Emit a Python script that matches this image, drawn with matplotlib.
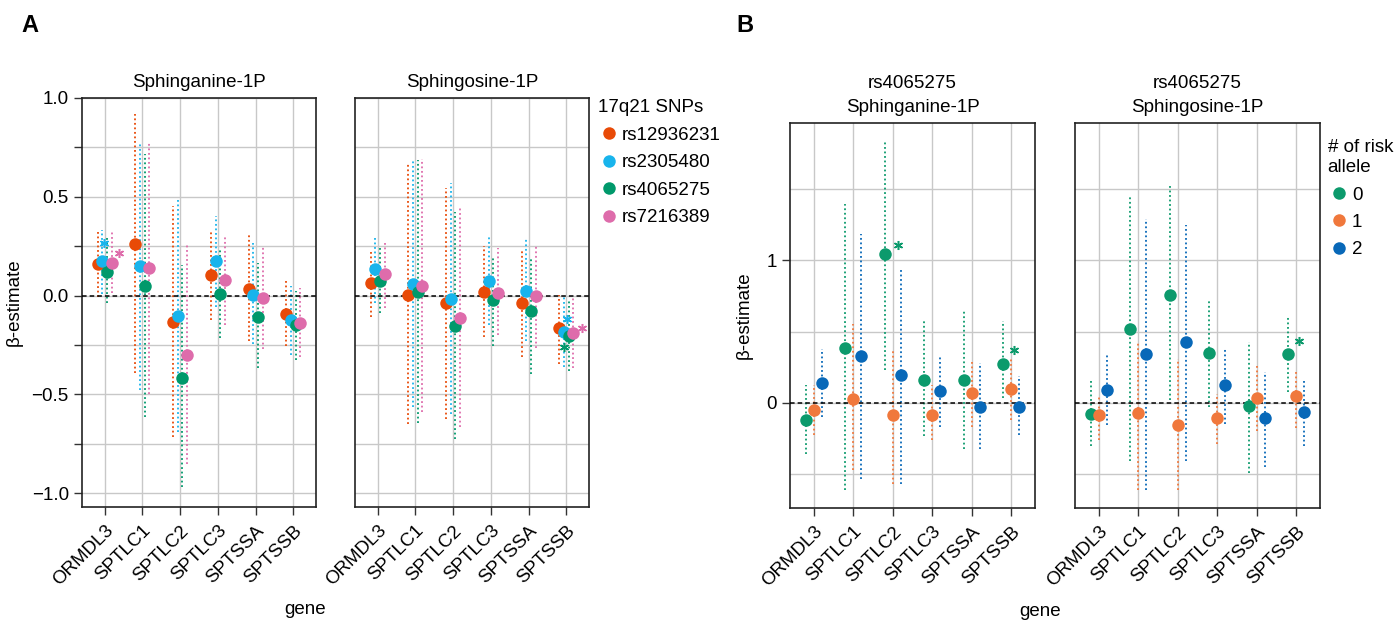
import matplotlib
matplotlib.use("Agg")
import matplotlib.pyplot as plt
from matplotlib.lines import Line2D
import numpy as np

plt.rcParams['font.family'] = ['Liberation Sans', 'DejaVu Sans']

genes = ["ORMDL3", "SPTLC1", "SPTLC2", "SPTLC3", "SPTSSA", "SPTSSB"]

# ---- panel A: 4 SNPs, two metabolites ----
snps = ["rs12936231", "rs2305480", "rs4065275", "rs7216389"]
snp_colors = ["#E84A07", "#18B4EC", "#00996B", "#DE6CAB"]

a_sa_est = [
    [0.161, 0.259, -0.132, 0.103, 0.032, -0.092],
    [0.173, 0.151, -0.102, 0.173, 0.003, -0.124],
    [0.120, 0.049, -0.415, 0.010, -0.107, -0.151],
    [0.166, 0.139, -0.302, 0.080, -0.014, -0.137],
]
a_sa_hi = [
    [0.325, 0.919, 0.453, 0.334, 0.305, 0.080],
    [0.334, 0.775, 0.495, 0.402, 0.266, 0.049],
    [0.295, 0.715, 0.156, 0.232, 0.164, 0.024],
    [0.330, 0.775, 0.258, 0.305, 0.249, 0.037],
]
a_sa_lo = [
    [-0.008, -0.392, -0.717, -0.124, -0.229, -0.254],
    [0.008, -0.480, -0.692, -0.056, -0.246, -0.302],
    [-0.039, -0.615, -0.971, -0.217, -0.369, -0.324],
    [0.012, -0.500, -0.853, -0.149, -0.268, -0.310],
]
a_so_est = [
    [0.066, 0.003, -0.039, 0.019, -0.039, -0.166],
    [0.134, 0.059, -0.017, 0.073, 0.024, -0.183],
    [0.075, 0.019, -0.156, -0.024, -0.078, -0.203],
    [0.110, 0.049, -0.115, 0.015, -0.003, -0.188],
]
a_so_hi = [
    [0.224, 0.664, 0.546, 0.249, 0.224, 0.003],
    [0.300, 0.686, 0.571, 0.308, 0.286, -0.005],
    [0.241, 0.686, 0.422, 0.198, 0.195, -0.025],
    [0.275, 0.693, 0.444, 0.241, 0.253, -0.014],
]
a_so_lo = [
    [-0.107, -0.649, -0.624, -0.212, -0.310, -0.344],
    [-0.039, -0.564, -0.598, -0.149, -0.229, -0.361],
    [-0.086, -0.646, -0.725, -0.256, -0.398, -0.381],
    [-0.064, -0.590, -0.666, -0.200, -0.263, -0.369],
]
# significance stars: (gene, x shift, y, series index)
a_sa_stars = [("ORMDL3", -0.03, 0.266, 1), ("ORMDL3", 0.38, 0.215, 3)]
a_so_stars = [("SPTSSB", 0.02, -0.120, 1), ("SPTSSB", -0.06, -0.259, 2),
              ("SPTSSB", 0.42, -0.163, 3)]

# ---- panel B: rs4065275 by number of risk alleles ----
alleles = ["0", "1", "2"]
allele_colors = ["#0C9A6C", "#F0783C", "#0868B8"]

b_sa_est = [
    [-0.119, 0.386, 1.042, 0.162, 0.162, 0.274],
    [-0.054, 0.028, -0.089, -0.089, 0.068, 0.098],
    [0.138, 0.326, 0.192, 0.080, -0.028, -0.028],
]
b_sa_hi = [
    [0.122, 1.393, 1.848, 0.574, 0.653, 0.574],
    [0.122, 0.555, 0.379, 0.122, 0.302, 0.309],
    [0.379, 1.183, 0.941, 0.326, 0.279, 0.185],
]
b_sa_lo = [
    [-0.358, -0.616, 0.232, -0.237, -0.323, 0.035],
    [-0.230, -0.475, -0.569, -0.265, -0.171, -0.119],
    [-0.100, -0.534, -0.569, -0.171, -0.323, -0.230],
]
b_so_est = [
    [-0.077, 0.520, 0.759, 0.351, -0.026, 0.342],
    [-0.089, -0.073, -0.159, -0.108, 0.033, 0.044],
    [0.091, 0.342, 0.429, 0.122, -0.108, -0.066],
]
b_so_hi = [
    [0.169, 1.457, 1.534, 0.719, 0.426, 0.607],
    [0.052, 0.426, 0.309, 0.063, 0.255, 0.232],
    [0.340, 1.293, 1.246, 0.386, 0.215, 0.169],
]
b_so_lo = [
    [-0.307, -0.410, 0.016, -0.030, -0.494, 0.075],
    [-0.265, -0.616, -0.616, -0.288, -0.199, -0.176],
    [-0.159, -0.616, -0.410, -0.148, -0.452, -0.307],
]
b_sa_stars = [("SPTLC2", 0.135, 1.105, 0), ("SPTSSB", 0.06, 0.372, 0)]
b_so_stars = [("SPTSSB", 0.07, 0.431, 0)]

FS = 13.5


def draw_panel(ax, est, lo, hi, colors, width, stars):
    n = len(est)
    x = np.arange(1, len(genes) + 1)
    offsets = (np.arange(n) - (n - 1) / 2) * width / n
    for k in range(n):
        xs = x + offsets[k]
        ax.vlines(xs, lo[k], hi[k], colors=colors[k], linestyles=(0, (1, 1.5)),
                  linewidth=1.3, zorder=2)
    ax.axhline(0, color="black", linestyle=(0, (3, 2)), linewidth=1.1, zorder=3)
    for k in range(n):
        xs = x + offsets[k]
        ax.plot(xs, est[k], "o", color=colors[k], markersize=9,
                markeredgewidth=0, zorder=4)
    for g, dx, y, k in stars:
        ax.plot(genes.index(g) + 1 + dx, y, marker=(6, 2, 0), color=colors[k],
                markersize=6.5, markeredgewidth=1.1, linestyle="", zorder=5)
    ax.set_xlim(0.4, 6.6)
    ax.set_xticks(x)
    ax.set_xticklabels(genes, rotation=45, ha="right", va="top",
                       rotation_mode="anchor", fontsize=FS)
    ax.grid(True, which="both", color="#C8C8C8", linewidth=1.0, zorder=0)
    ax.set_axisbelow(True)
    for s in ax.spines.values():
        s.set_linewidth(1.2)
        s.set_color("#222222")
    ax.tick_params(axis="both", which="both", length=6, width=1.0,
                   labelsize=FS, color="#333333")
    ax.tick_params(axis="x", pad=5)


fig = plt.figure(figsize=(14, 6.21), dpi=100)

W, H = 1400, 621


def add_ax(x0, x1, y0, y1):
    return fig.add_axes([x0 / W, 1 - y1 / H, (x1 - x0) / W, (y1 - y0) / H])


axA1 = add_ax(82, 316, 98, 507)
axA2 = add_ax(355, 589, 98, 507)
axB1 = add_ax(790, 1035, 123, 508)
axB2 = add_ax(1075, 1320, 123, 508)

draw_panel(axA1, a_sa_est, a_sa_lo, a_sa_hi, snp_colors, 0.5, a_sa_stars)
draw_panel(axA2, a_so_est, a_so_lo, a_so_hi, snp_colors, 0.5, a_so_stars)
draw_panel(axB1, b_sa_est, b_sa_lo, b_sa_hi, allele_colors, 0.6, b_sa_stars)
draw_panel(axB2, b_so_est, b_so_lo, b_so_hi, allele_colors, 0.6, b_so_stars)

for ax in (axA1, axA2):
    ax.set_ylim(-1.07, 1.0)
    ax.set_yticks([-1.0, -0.5, 0.0, 0.5, 1.0])
    ax.set_yticks([-0.75, -0.25, 0.25, 0.75], minor=True)
    ax.set_yticklabels(["\u22121.0", "\u22120.5", "0.0", "0.5", "1.0"])
axA2.tick_params(axis="y", which="both", length=0, labelleft=False)

for ax in (axB1, axB2):
    ax.set_ylim(-0.74, 1.965)
    ax.set_yticks([0, 1])
    ax.set_yticks([-0.5, 0.5, 1.5], minor=True)
    ax.set_yticklabels(["0", "1"])
    ax.tick_params(axis="y", which="minor", length=0)
axB2.tick_params(axis="y", which="both", length=0, labelleft=False)

axA1.set_title("Sphinganine-1P", fontsize=FS, pad=8)
axA2.set_title("Sphingosine-1P", fontsize=FS, pad=8)
axB1.set_title("rs4065275\nSphinganine-1P", fontsize=FS, pad=8, linespacing=1.5)
axB2.set_title("rs4065275\nSphingosine-1P", fontsize=FS, pad=8, linespacing=1.5)

axA1.set_ylabel("\u03b2-estimate", fontsize=FS, labelpad=6)
axB1.set_ylabel("\u03b2-estimate", fontsize=FS, labelpad=10)

fig.text(305 / W, 1 - 610 / H, "gene", fontsize=FS, ha="center", va="center")
fig.text(1040 / W, 1 - 612 / H, "gene", fontsize=FS, ha="center", va="center")

fig.text(30 / W, 1 - 25 / H, "A", fontsize=17, fontweight="bold", ha="center", va="center")
fig.text(745 / W, 1 - 25 / H, "B", fontsize=17, fontweight="bold", ha="center", va="center")

# legends
hA = [Line2D([], [], marker="o", linestyle="", color=c, markersize=9, markeredgewidth=0)
      for c in snp_colors]
fig.legend(hA, snps, title="17q21 SNPs", loc="upper left",
           bbox_to_anchor=(590 / W, 1 - 92 / H), frameon=False, fontsize=FS,
           title_fontsize=FS, handletextpad=0.1, labelspacing=0.55,
           alignment="left", handlelength=1.2, borderaxespad=0)

hB = [Line2D([], [], marker="o", linestyle="", color=c, markersize=9, markeredgewidth=0)
      for c in allele_colors]
fig.legend(hB, alleles, title="# of risk\nallele", loc="upper left",
           bbox_to_anchor=(1320 / W, 1 - 132 / H), frameon=False, fontsize=FS,
           title_fontsize=FS, handletextpad=0.1, labelspacing=0.55,
           alignment="left", handlelength=1.2, borderaxespad=0)

fig.savefig("out.png", dpi=100)
